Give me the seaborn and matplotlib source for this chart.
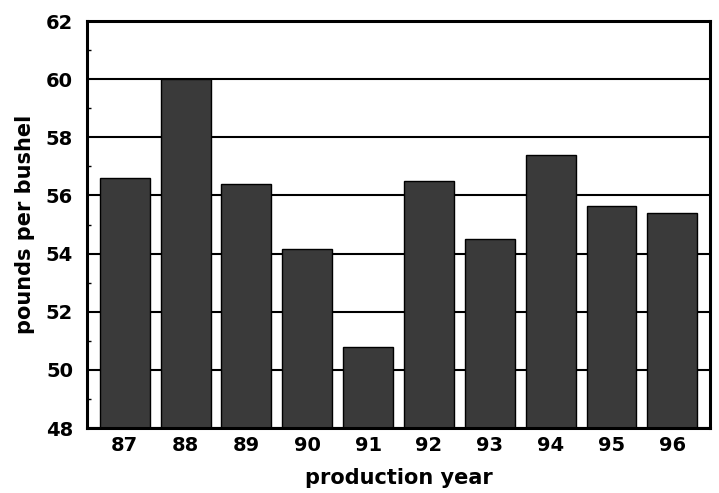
import matplotlib
matplotlib.use("Agg")
import matplotlib.pyplot as plt
import seaborn as sns
import pandas as pd
from matplotlib.ticker import MultipleLocator

years = ["87", "88", "89", "90", "91", "92", "93", "94", "95", "96"]
pounds = [56.6, 60.0, 56.4, 54.15, 50.8, 56.5, 54.5, 57.4, 55.65, 55.4]
yticks = [48, 50, 52, 54, 56, 58, 60, 62]

sns.set_theme(style="white")
plt.rcParams['font.family'] = ['DejaVu Sans']

df = pd.DataFrame({"year": years, "pounds": pounds})

fig = plt.figure(figsize=(7.19, 4.93), dpi=100)
ax = fig.add_axes([0.121, 0.1318, 0.8665, 0.8256])

sns.barplot(data=df, x="year", y="pounds", color="#3a3a3a", saturation=1,
            width=0.82, edgecolor="black", linewidth=1.0, ax=ax)

ax.set_ylim(48, 62)
ax.set_xlim(-0.62, 9.62)
ax.set_yticks(yticks)
ax.yaxis.set_minor_locator(MultipleLocator(1))
ax.set_axisbelow(True)
ax.grid(axis="y", which="major", color="black", linewidth=1.5)
ax.grid(axis="x", visible=False)

for s in ax.spines.values():
    s.set_color("black")
    s.set_linewidth(2.2)

ax.tick_params(axis="y", which="major", length=0, labelsize=14, pad=10)
ax.tick_params(axis="y", which="minor", direction="in", length=3, width=1, color="black", left=True)
ax.tick_params(axis="x", length=0, labelsize=14, pad=6)
for lab in ax.get_xticklabels() + ax.get_yticklabels():
    lab.set_fontweight("bold")
    lab.set_color("black")

ax.set_xlabel("production year", fontsize=15, fontweight="bold", color="black", labelpad=9)
ax.set_ylabel("pounds per bushel", fontsize=15, fontweight="bold", color="black", labelpad=8)

fig.savefig("out.png", dpi=100, facecolor="white")
